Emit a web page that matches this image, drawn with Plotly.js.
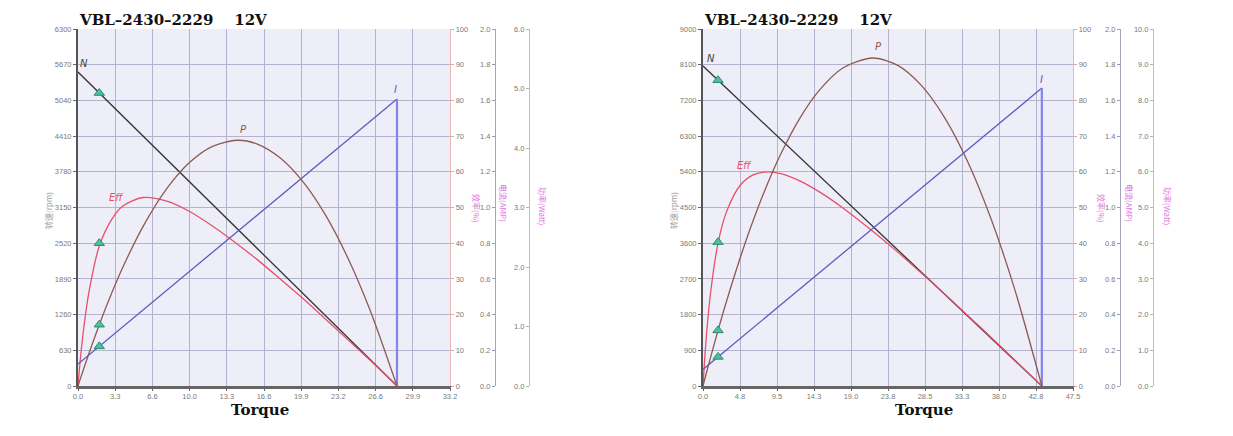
<!DOCTYPE html>
<html>
<head>
<meta charset="utf-8">
<script src="https://cdn.plot.ly/plotly-3.0.1.min.js"></script>
<style>
body { margin: 0; background: #fff; }
#chart { width: 1233px; height: 436px; }
</style>
</head>
<body>
<div id="chart"></div>
<script>
// ---- data ----
chartTitle = 'VBL\u20132430\u20132229\u00a0\u00a0\u00a0\u00a012V'

// left chart
torqueL = [0, 0.2, 0.5, 1, 1.9, 3, 4, 5.8, 8, 10, 12, 14.2, 16, 18, 20, 22, 24, 26, 28.47]
effL = [0, 7.2, 15.9, 26.7, 39.2, 46.6, 50.4, 52.8, 51.7, 48.8, 44.8, 39.8, 35.4, 30.1, 24.7, 19.0, 13.2, 7.4, 0]
powerL = [0, 0.115, 0.285, 0.56, 1.03, 1.557, 1.995, 2.679, 3.337, 3.764, 4.027, 4.13, 4.066, 3.84, 3.452, 2.901, 2.186, 1.307, 0]
speedTorqueL = [0, 28.47]
speedL = [5540, 0]
currentTorqueL = [0, 28.47, 28.47]
currentL = [0.123, 1.608, 0]
markL = {t: 1.9, n: 5170, eff: 40, p: 1.03, i: 0.222}
xTicksL = ['0.0', '3.3', '6.6', '10.0', '13.3', '16.6', '19.9', '23.2', '26.6', '29.9', '33.2']

// right chart
torqueR = [0, 0.2, 0.5, 1, 1.93, 3, 4.8, 6.5, 8.3, 10, 12.5, 15, 18, 21.75, 25, 28, 31, 34, 37, 40, 43.5]
effR = [0, 7.0, 15.7, 26.6, 40.0, 48.7, 56.3, 59.2, 60.0, 59.5, 57.4, 54.3, 49.8, 43.4, 37.5, 31.7, 25.8, 19.7, 13.6, 7.3, 0]
powerR = [0, 0.168, 0.4175, 0.825, 1.558, 2.36, 3.608, 4.671, 5.674, 6.506, 7.526, 8.302, 8.914, 9.187, 8.982, 8.427, 7.525, 6.273, 4.669, 2.719, 0]
speedTorqueR = [0, 43.5]
speedR = [8067, 0]
currentTorqueR = [0, 43.5, 43.5]
currentR = [0.093, 1.669, 0]
markR = {t: 1.93, n: 7709, eff: 40.3, p: 1.558, i: 0.163}
xTicksR = ['0.0', '4.8', '9.5', '14.3', '19.0', '23.8', '28.5', '33.3', '38.0', '42.8', '47.5']

// ---- styling ----
W = 1233
H = 436
colN = '#333333'
colEff = '#e6506a'
colP = '#8c5a50'
colI = '#5c5cc4'
tickFont = {family: 'Liberation Sans, Arial, sans-serif', size: 7.5, color: '#7a7a7a'}
magenta = '#e070e0'

px = (x) => x / W
py = (y) => 1 - y / H

make_chart = (k, torque, eff, power, sTorque, speed, cTorque, current, mark, ticks, xmax, ymax, pmax, pos) => {
    // k = first y axis number, pos = pixel positions of the axes
    xa = k == 1 ? 'x' : 'x2'
    ya = ['y' + (k == 1 ? '' : k), 'y' + (k + 1), 'y' + (k + 2), 'y' + (k + 3)]

    traces = [
        {x: sTorque, y: speed, xaxis: xa, yaxis: ya[0], mode: 'lines', line: {color: colN, width: 1.3}},
        {x: torque, y: eff, xaxis: xa, yaxis: ya[1], mode: 'lines', line: {color: colEff, width: 1.3, shape: 'spline', smoothing: 0.8}},
        {x: cTorque.slice(0, 2), y: current.slice(0, 2), xaxis: xa, yaxis: ya[2], mode: 'lines', line: {color: colI, width: 1.3}},
        {x: cTorque.slice(1), y: current.slice(1), xaxis: xa, yaxis: ya[2], mode: 'lines', line: {color: '#8484ec', width: 2.2}},
        {x: torque, y: power, xaxis: xa, yaxis: ya[3], mode: 'lines', line: {color: colP, width: 1.3, shape: 'spline', smoothing: 0.8}}
    ]
    vals = [mark.n, mark.eff, mark.i, mark.p]
    for (j = 0; j < 4; j++) {
        traces.push({x: [mark.t], y: [vals[j]], xaxis: xa, yaxis: ya[j], mode: 'markers',
            marker: {symbol: 'triangle-up', size: 9, color: '#4cc0a0', line: {color: '#2a8a70', width: 1}}})
    }

    dom = [px(pos.x0), px(pos.x1)]
    ydom = [py(386), py(29)]
    tv = ticks.map((t, i) => xmax * i / 10)

    ax = {}
    ax[k == 1 ? 'xaxis' : 'xaxis2'] = {
        domain: dom, range: [0, xmax], anchor: ya[0],
        tickvals: tv, ticktext: ticks, tickfont: tickFont, ticks: 'outside', ticklen: 2, tickcolor: '#666',
        ticklabelstandoff: -1,
        showgrid: true, gridcolor: '#b4b2cc', gridwidth: 1,
        showline: true, linecolor: '#666', linewidth: 2.5, zeroline: false, fixedrange: true
    }
    first = k == 1 ? 'yaxis' : 'yaxis' + k
    ax[first] = {
        domain: ydom, range: [0, ymax], dtick: ymax / 10, anchor: xa,
        tickfont: tickFont, ticks: 'outside', ticklen: 3, tickcolor: '#666',
        showgrid: true, gridcolor: '#b4b2cc', gridwidth: 1,
        showline: true, linecolor: '#555', linewidth: 2, zeroline: false, fixedrange: true
    }
    ax['yaxis' + (k + 1)] = {
        overlaying: ya[0], anchor: xa, side: 'right', range: [0, 100], dtick: 10,
        tickfont: tickFont, ticks: 'outside', ticklen: 3, tickcolor: '#d8a8a8',
        showgrid: false, showline: true, linecolor: '#e8b8b8', linewidth: 1.2, zeroline: false, fixedrange: true
    }
    ax['yaxis' + (k + 2)] = {
        overlaying: ya[0], anchor: 'free', position: px(pos.cur), side: 'left', range: [0, 2.0], dtick: 0.2,
        tickformat: '.1f', tickfont: tickFont, ticks: 'outside', ticklen: 3, tickcolor: '#9a9ab8',
        showgrid: false, showline: true, linecolor: '#a4a4c0', linewidth: 1.2, zeroline: false, fixedrange: true
    }
    ax['yaxis' + (k + 3)] = {
        overlaying: ya[0], anchor: 'free', position: px(pos.pow), side: 'left', range: [0, pmax], dtick: 1.0,
        tickformat: '.1f', tickfont: tickFont, ticks: 'outside', ticklen: 3, tickcolor: '#c0b498',
        showgrid: false, showline: true, linecolor: '#cbbfa8', linewidth: 1.2, zeroline: false, fixedrange: true
    }

    lab = (text, x, y, color, size) => ({text: text, x: x, y: y, xref: xa, yref: ya[0], showarrow: false,
        font: {family: 'DejaVu Sans, sans-serif', size: size, color: color, style: 'italic'}})
    paper = (text, x, y, font, angle, xanchor) => ({text: text, x: px(x), y: py(y), xref: 'paper', yref: 'paper',
        showarrow: false, textangle: angle, xanchor: xanchor || 'center', yanchor: 'middle', font: font})

    serif = {family: 'DejaVu Serif, serif', size: 15, color: '#111', weight: 'bold'}
    small = {family: 'Noto Sans CJK SC, sans-serif', size: 8, color: '#9a9a9a'}
    pink = {family: 'Noto Sans CJK SC, sans-serif', size: 8, color: magenta}

    notes = [
        lab('N', pos.nLab[0], pos.nLab[1], '#444', 10),
        lab('Eff', pos.eLab[0], pos.eLab[1], colEff, 10),
        lab('P', pos.pLab[0], pos.pLab[1], colP, 10),
        lab('I', pos.iLab[0], pos.iLab[1], colI, 10),
        paper(chartTitle, pos.x0 - 1, 20, serif, 0, 'left'),
        paper('Torque', pos.torque, 410, serif, 0),
        paper('转速(rpm)', pos.x0 - 30, 211, small, -90),
        paper('效率(%)', pos.tEff, 208, pink, 90),
        paper('电流(AMP)', pos.tCur, 203, pink, 90),
        paper('功率(Watt)', pos.tPow, 206, pink, 90)
    ]
    return [traces, ax, notes]
}

left = make_chart(1, torqueL, effL, powerL, speedTorqueL, speedL, currentTorqueL, currentL, markL, xTicksL, 33.2, 6300, 6.0,
    {x0: 78, x1: 450, cur: 495, pow: 529, torque: 260, tEff: 477, tCur: 503, tPow: 542,
     nLab: [0.5, 5700], eLab: [3.4, 3330], pLab: [14.8, 4520], iLab: [28.3, 5230]})
right = make_chart(5, torqueR, effR, powerR, speedTorqueR, speedR, currentTorqueR, currentR, markR, xTicksR, 47.5, 9000, 10.0,
    {x0: 703, x1: 1073, cur: 1120, pow: 1153, torque: 924, tEff: 1102, tCur: 1129, tPow: 1167,
     nLab: [1.0, 8250], eLab: [5.3, 5550], pLab: [22.5, 8560], iLab: [43.4, 7720]})

layout = Object.assign({
    width: W, height: H, autosize: false,
    margin: {l: 0, r: 0, t: 0, b: 0},
    paper_bgcolor: '#ffffff', plot_bgcolor: '#eeeef9',
    showlegend: false,
    annotations: left[2].concat(right[2])
}, left[1], right[1])

// the right chart needs its own background, drawn as a shape under the lines
layout.shapes = [{type: 'rect', xref: 'x2 domain', yref: 'y5 domain', x0: 0, x1: 1, y0: 0, y1: 1,
    fillcolor: '#eeeef9', line: {width: 0}, layer: 'below'}]

Plotly.newPlot('chart', left[0].concat(right[0]), layout, {displayModeBar: false, staticPlot: true})
</script>
</body>
</html>
